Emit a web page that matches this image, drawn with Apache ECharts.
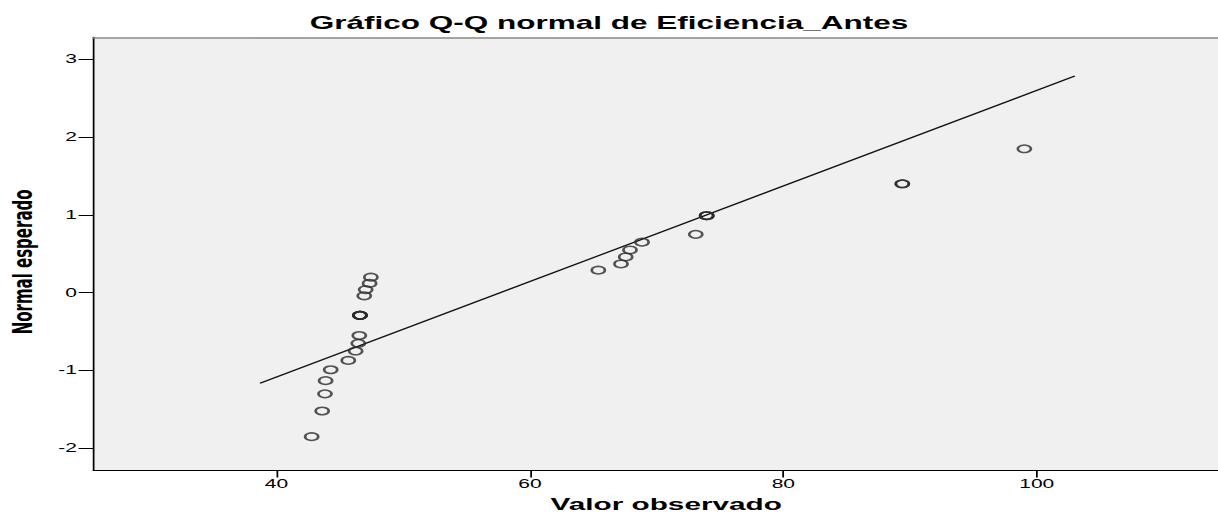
<!DOCTYPE html>
<html>
<head>
<meta charset="utf-8">
<script src="https://cdn.jsdelivr.net/npm/echarts@6/dist/echarts.min.js"></script>
<style>
html,body{margin:0;padding:0;background:#fff;}
#wrap{width:1218px;height:518px;overflow:hidden;position:relative;background:#fff;}
#chart{width:696px;height:518px;transform:scaleX(1.75);transform-origin:0 0;}
</style>
</head>
<body>
<div id="wrap"><div id="chart"></div></div>
<script>
const observed = [42.78, 43.61, 43.83, 43.88, 44.28, 45.67, 46.25, 46.46, 46.54,
  46.59, 46.59, 46.59, 46.59, 46.59, 46.93, 47.04, 47.35, 47.45,
  65.40, 67.19, 67.56, 67.90, 68.85, 73.09, 73.95, 73.95, 73.95,
  89.39, 89.39, 99.02];
const expectedNormal = [-1.85, -1.52, -1.30, -1.13, -0.99, -0.87, -0.75, -0.65, -0.55,
  -0.29, -0.29, -0.29, -0.29, -0.29, -0.04, 0.04, 0.12, 0.20,
  0.29, 0.37, 0.46, 0.55, 0.65, 0.75, 0.99, 0.99, 0.99,
  1.40, 1.40, 1.85];
// Reference line endpoints
const refLineX = [38.7, 103.0];
const refLineY = [-1.165, 2.785];
// Tick labels
const xTicks = [40, 60, 80, 100];
const yTicks = [-2, -1, 0, 1, 2, 3];

const titleText = 'Gráfico Q-Q normal de Eficiencia_Antes';
const xName = 'Valor observado';
const yName = 'Normal esperado';

const FONT = "'Liberation Sans', Arial, sans-serif";

const points = observed.map((x, i) => [x, expectedNormal[i]]);
const linePts = refLineX.map((x, i) => [x, refLineY[i]]);

const chart = echarts.init(document.getElementById('chart'), null, {renderer: 'svg'});
chart.setOption({
  animation: false,
  backgroundColor: '#ffffff',
  title: {
    text: titleText,
    left: 'center',
    top: 9,
    textStyle: {fontFamily: FONT, fontWeight: 'bold', fontSize: 18, color: '#000'}
  },
  grid: {
    left: 53.4, right: 0, top: 37.3, bottom: 47.5,
    containLabel: false,
    outerBoundsMode: 'none',
    show: true, backgroundColor: '#f0f0f0', borderWidth: 0
  },
  xAxis: [{
    type: 'value',
    min: 25.56, max: 114.3,
    position: 'bottom',
    name: xName,
    nameLocation: 'middle',
    nameGap: 22,
    nameTextStyle: {fontFamily: FONT, fontWeight: 'bold', fontSize: 17, color: '#000', padding: [0, 0, 0, 12]},
    axisLine: {show: true, onZero: false, lineStyle: {color: '#000', width: 1}},
    axisTick: {show: true, length: 7, customValues: xTicks, lineStyle: {color: '#000', width: 1}},
    axisLabel: {show: true, margin: 8, customValues: xTicks, fontFamily: FONT, fontSize: 12, color: '#000'},
    splitLine: {show: false}
  }, {
    type: 'value',
    min: 25.56, max: 114.3,
    position: 'top',
    axisLine: {show: true, onZero: false, lineStyle: {color: '#8a8a8a', width: 1.5}},
    axisTick: {show: false},
    axisLabel: {show: false},
    splitLine: {show: false}
  }],
  yAxis: {
    type: 'value',
    min: -2.285, max: 3.283,
    name: yName,
    nameLocation: 'middle',
    nameGap: 33,
    nameTextStyle: {fontFamily: "'DejaVu Sans', sans-serif", fontWeight: 'bold', fontSize: 15, color: '#000', padding: [0, 16, 0, 0]},
    axisLine: {show: true, onZero: false, lineStyle: {color: '#000', width: 1}},
    axisTick: {show: true, length: 8.5, customValues: yTicks, lineStyle: {color: '#000', width: 1}},
    axisLabel: {show: true, margin: 9.5, customValues: yTicks, fontFamily: FONT, fontSize: 12, color: '#000'},
    splitLine: {show: false}
  },
  series: [{
    type: 'line',
    data: linePts,
    showSymbol: false,
    silent: true,
    lineStyle: {color: '#111', width: 1.2},
    z: 2
  }, {
    type: 'scatter',
    data: points,
    symbol: 'circle',
    symbolSize: 7.5,
    itemStyle: {color: 'rgba(0,0,0,0)', borderColor: '#2a2a2a', borderWidth: 1.5},
    z: 3
  }]
});
</script>
</body>
</html>
